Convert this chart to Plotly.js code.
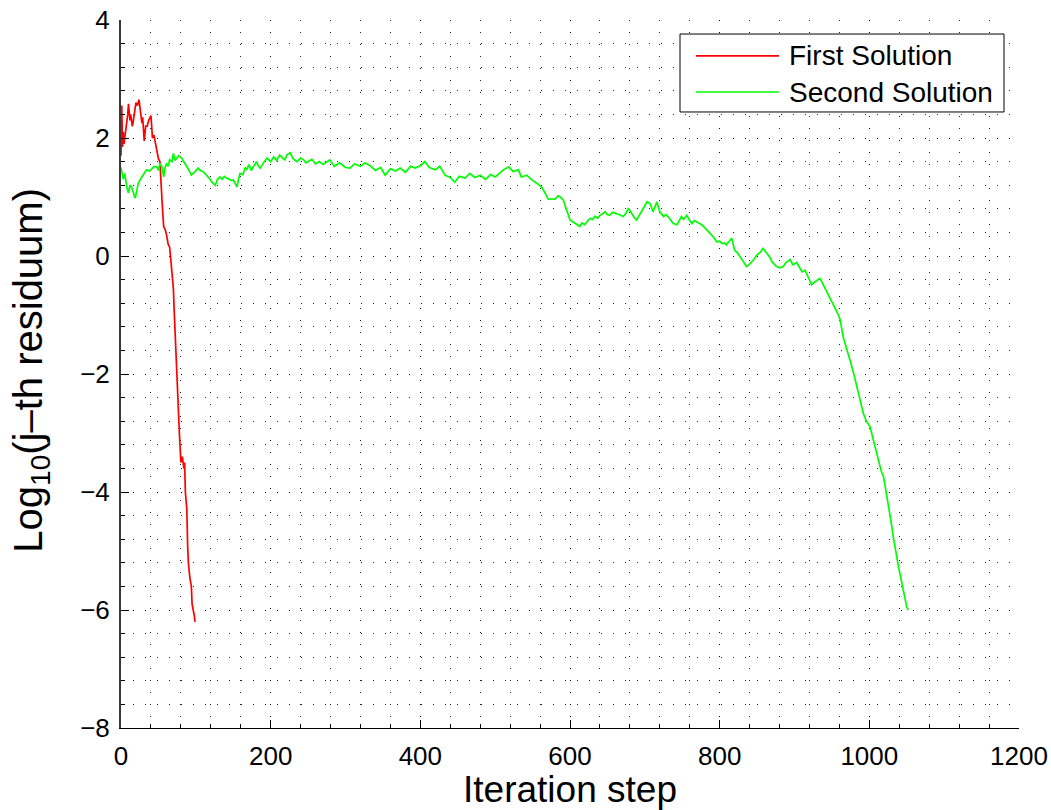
<!DOCTYPE html>
<html>
<head>
<meta charset="utf-8">
<script src="https://cdn.plot.ly/plotly-3.0.1.min.js"></script>
<style>
  html, body { margin: 0; padding: 0; background: #fff; }
  #chart { width: 1051px; height: 810px; }
</style>
</head>
<body>
<div id="chart"></div>
<script>
// Residual history of the two solutions (log10 of the j-th residuum per iteration)
const iterFirst = [0, 1, 2, 3, 4, 5, 7, 9, 10, 12, 13, 15, 16, 18, 20, 22, 24, 26, 28, 29, 31, 33, 35, 37, 40, 41, 42, 44, 45, 47, 48, 50, 52, 53, 55, 57, 59, 61, 63, 65, 66, 68, 70, 71, 72, 74, 76, 78, 80, 82, 84, 85, 86, 88, 89, 90, 92, 94, 95, 97, 98, 99];
const residFirst = [1.7, 2.55, 1.85, 2.1, 1.9, 2.0, 2.15, 2.4, 2.58, 2.3, 2.4, 2.2, 2.25, 2.45, 2.6, 2.55, 2.65, 2.45, 2.25, 2.35, 1.95, 2.2, 2.2, 2.3, 2.38, 2.2, 2.0, 2.05, 1.98, 1.85, 1.72, 1.65, 1.6, 1.25, 0.9, 0.5, 0.45, 0.35, 0.2, 0.15, 0.0, -0.35, -0.55, -0.9, -1.25, -1.9, -2.5, -3.0, -3.5, -3.4, -3.6, -3.5, -4.0, -4.3, -4.9, -5.2, -5.45, -5.6, -5.9, -6.0, -6.1, -6.2];

const iterSecond = [0, 3, 5, 8, 10, 12, 14, 17, 19, 21, 23, 26, 28, 31, 34, 38, 41, 44, 48, 50, 52, 55, 57, 59, 61, 63, 65, 68, 70, 72, 74, 77, 81, 84, 88, 91, 94, 97, 99, 103, 106, 110, 114, 117, 119, 121, 124, 126, 129, 132, 135, 138, 141, 145, 148, 150, 153, 155, 157, 159, 163, 166, 168, 171, 174, 177, 181, 184, 186, 190, 193, 195, 200, 204, 208, 212, 216, 219, 222, 226, 230, 235, 240, 244, 247, 250, 255, 260, 265, 270, 279, 285, 292, 300, 306, 312, 320, 326, 333, 340, 347, 353, 360, 367, 373, 380, 387, 393, 400, 406, 412, 420, 426, 433, 440, 446, 452, 460, 466, 473, 480, 487, 494, 500, 506, 511, 518, 524, 531, 535, 542, 549, 556, 562, 567, 571, 576, 580, 584, 587, 591, 596, 600, 604, 607, 610, 613, 616, 620, 624, 627, 630, 633, 637, 640, 644, 647, 650, 653, 657, 662, 666, 671, 675, 678, 682, 685, 689, 692, 696, 700, 703, 707, 711, 714, 716, 720, 725, 728, 731, 735, 738, 743, 746, 749, 752, 756, 760, 763, 766, 769, 773, 776, 780, 783, 786, 789, 793, 796, 800, 803, 806, 809, 813, 816, 818, 820, 824, 827, 831, 836, 840, 843, 846, 850, 854, 858, 861, 863, 867, 870, 873, 876, 880, 885, 888, 890, 894, 898, 903, 907, 910, 914, 919, 923, 927, 930, 934, 937, 941, 944, 947, 951, 954, 958, 961, 965, 968, 972, 975, 979, 982, 985, 989, 992, 996, 1001, 1004, 1008, 1011, 1013, 1016, 1019, 1022, 1025, 1029, 1032, 1035, 1039, 1042, 1045, 1048, 1050, 1052];
const residSecond = [1.5, 1.3, 1.4, 1.15, 1.07, 1.2, 1.17, 1.05, 0.98, 1.1, 1.23, 1.3, 1.34, 1.4, 1.46, 1.44, 1.47, 1.52, 1.51, 1.45, 1.57, 1.5, 1.34, 1.5, 1.57, 1.52, 1.63, 1.6, 1.74, 1.62, 1.66, 1.7, 1.66, 1.6, 1.51, 1.45, 1.37, 1.4, 1.43, 1.49, 1.45, 1.43, 1.38, 1.34, 1.3, 1.26, 1.22, 1.2, 1.3, 1.34, 1.3, 1.35, 1.32, 1.3, 1.28, 1.29, 1.22, 1.17, 1.3, 1.4, 1.38, 1.5, 1.46, 1.55, 1.45, 1.51, 1.6, 1.52, 1.49, 1.57, 1.62, 1.66, 1.6, 1.68, 1.62, 1.71, 1.66, 1.63, 1.72, 1.75, 1.65, 1.6, 1.66, 1.63, 1.58, 1.6, 1.64, 1.56, 1.6, 1.55, 1.63, 1.52, 1.58, 1.5, 1.49, 1.56, 1.52, 1.58, 1.53, 1.45, 1.5, 1.37, 1.48, 1.44, 1.49, 1.42, 1.52, 1.49, 1.53, 1.6, 1.5, 1.46, 1.52, 1.37, 1.33, 1.25, 1.35, 1.32, 1.4, 1.33, 1.37, 1.3, 1.38, 1.34, 1.4, 1.46, 1.51, 1.43, 1.46, 1.34, 1.37, 1.29, 1.23, 1.17, 1.06, 0.96, 0.97, 0.96, 1.02, 1.0, 0.95, 0.78, 0.61, 0.58, 0.55, 0.52, 0.5, 0.56, 0.53, 0.6, 0.64, 0.62, 0.67, 0.64, 0.69, 0.72, 0.75, 0.7, 0.69, 0.74, 0.72, 0.7, 0.67, 0.73, 0.81, 0.72, 0.67, 0.61, 0.68, 0.75, 0.85, 0.92, 0.89, 0.75, 0.85, 0.92, 0.75, 0.67, 0.7, 0.67, 0.6, 0.55, 0.53, 0.6, 0.67, 0.62, 0.69, 0.6, 0.55, 0.6, 0.58, 0.55, 0.53, 0.48, 0.44, 0.4, 0.36, 0.3, 0.24, 0.25, 0.21, 0.22, 0.19, 0.26, 0.3, 0.2, 0.1, 0.05, -0.01, -0.1, -0.18, -0.14, -0.1, -0.05, 0.02, 0.06, 0.13, 0.08, 0.05, -0.02, -0.1, -0.14, -0.18, -0.2, -0.18, -0.12, -0.1, -0.06, -0.15, -0.11, -0.2, -0.27, -0.24, -0.38, -0.49, -0.44, -0.41, -0.38, -0.45, -0.55, -0.62, -0.69, -0.78, -0.86, -0.98, -1.08, -1.37, -1.5, -1.65, -1.8, -1.99, -2.15, -2.33, -2.5, -2.67, -2.8, -2.89, -3.05, -3.26, -3.4, -3.54, -3.65, -3.74, -3.95, -4.19, -4.5, -4.76, -5.0, -5.27, -5.45, -5.66, -5.85, -5.95, -6.0];

const seriesNames = ['First Solution', 'Second Solution'];
const seriesColors = ['#ff0000', '#00ff00'];

const fontFamily = 'Liberation Sans, Arial, Helvetica, sans-serif';
const dotted = '1px,11px';

const traces = [
  { x: iterFirst, y: residFirst, name: seriesNames[0], type: 'scatter', mode: 'lines',
    line: { color: seriesColors[0], width: 1.7 } },
  { x: iterSecond, y: residSecond, name: seriesNames[1], type: 'scatter', mode: 'lines',
    line: { color: seriesColors[1], width: 1.7 } }
];

// Hand-built legend box in the upper right corner
const legX0 = 0.6225, legX1 = 0.9833, legY0 = 0.8701, legY1 = 0.9802;
const rowY = [0.9492, 0.8983];
const shapes = [
  { type: 'rect', xref: 'paper', yref: 'paper', x0: legX0, x1: legX1, y0: legY0, y1: legY1,
    line: { color: '#000', width: 1 }, fillcolor: '#fff', layer: 'above' }
];
const annotations = [];
seriesNames.forEach((name, i) => {
  shapes.push({ type: 'line', xref: 'paper', yref: 'paper', x0: 0.6403, x1: 0.7327, y0: rowY[i], y1: rowY[i],
    line: { color: seriesColors[i], width: 1.7 }, layer: 'above' });
  annotations.push({ xref: 'paper', yref: 'paper', x: 0.7415, y: rowY[i], xanchor: 'left', yanchor: 'middle',
    text: name, showarrow: false, font: { family: fontFamily, size: 28, color: '#000' } });
});

// Vertical axis label, placed beside the tick labels
annotations.push({
  xref: 'paper', yref: 'paper', x: -0.1, y: 0.505, xanchor: 'center', yanchor: 'middle',
  textangle: -90, showarrow: false,
  text: 'Log<sub>10</sub>(j–th residuum)',
  font: { family: fontFamily, size: 40, color: '#000' }
});

const layout = {
  width: 1051, height: 810,
  margin: { l: 121, r: 32, t: 20, b: 82 },
  paper_bgcolor: '#fff', plot_bgcolor: '#fff',
  showlegend: false,
  font: { family: fontFamily, color: '#000' },
  xaxis: {
    range: [0, 1200], tick0: 0, dtick: 200,
    ticks: 'inside', ticklen: 8, tickwidth: 1, tickcolor: '#000',
    showline: true, linecolor: '#000', linewidth: 1.2,
    showgrid: true, gridcolor: '#000', gridwidth: 1, griddash: dotted,
    zeroline: false,
    tickfont: { size: 26, family: fontFamily, color: '#000' },
    ticklabelstandoff: 5,
    minor: { dtick: 40, ticks: 'inside', ticklen: 4, tickcolor: '#000',
             showgrid: true, gridcolor: '#222', gridwidth: 1, griddash: dotted },
    title: { text: 'Iteration step', font: { size: 37, family: fontFamily, color: '#000' }, standoff: 5 }
  },
  yaxis: {
    range: [-8, 4], tick0: -8, dtick: 2,
    ticks: 'inside', ticklen: 8, tickwidth: 1, tickcolor: '#000',
    showline: true, linecolor: '#3a3a3a', linewidth: 2,
    showgrid: true, gridcolor: '#000', gridwidth: 1, griddash: dotted,
    zeroline: false,
    tickfont: { size: 26, family: fontFamily, color: '#000' },
    ticklabelstandoff: 4,
    minor: { dtick: 0.4, ticks: 'inside', ticklen: 4, tickcolor: '#000',
             showgrid: true, gridcolor: '#222', gridwidth: 1, griddash: dotted }
  },
  shapes: shapes,
  annotations: annotations
};

Plotly.newPlot('chart', traces, layout, { displayModeBar: false, staticPlot: true });
</script>
</body>
</html>
